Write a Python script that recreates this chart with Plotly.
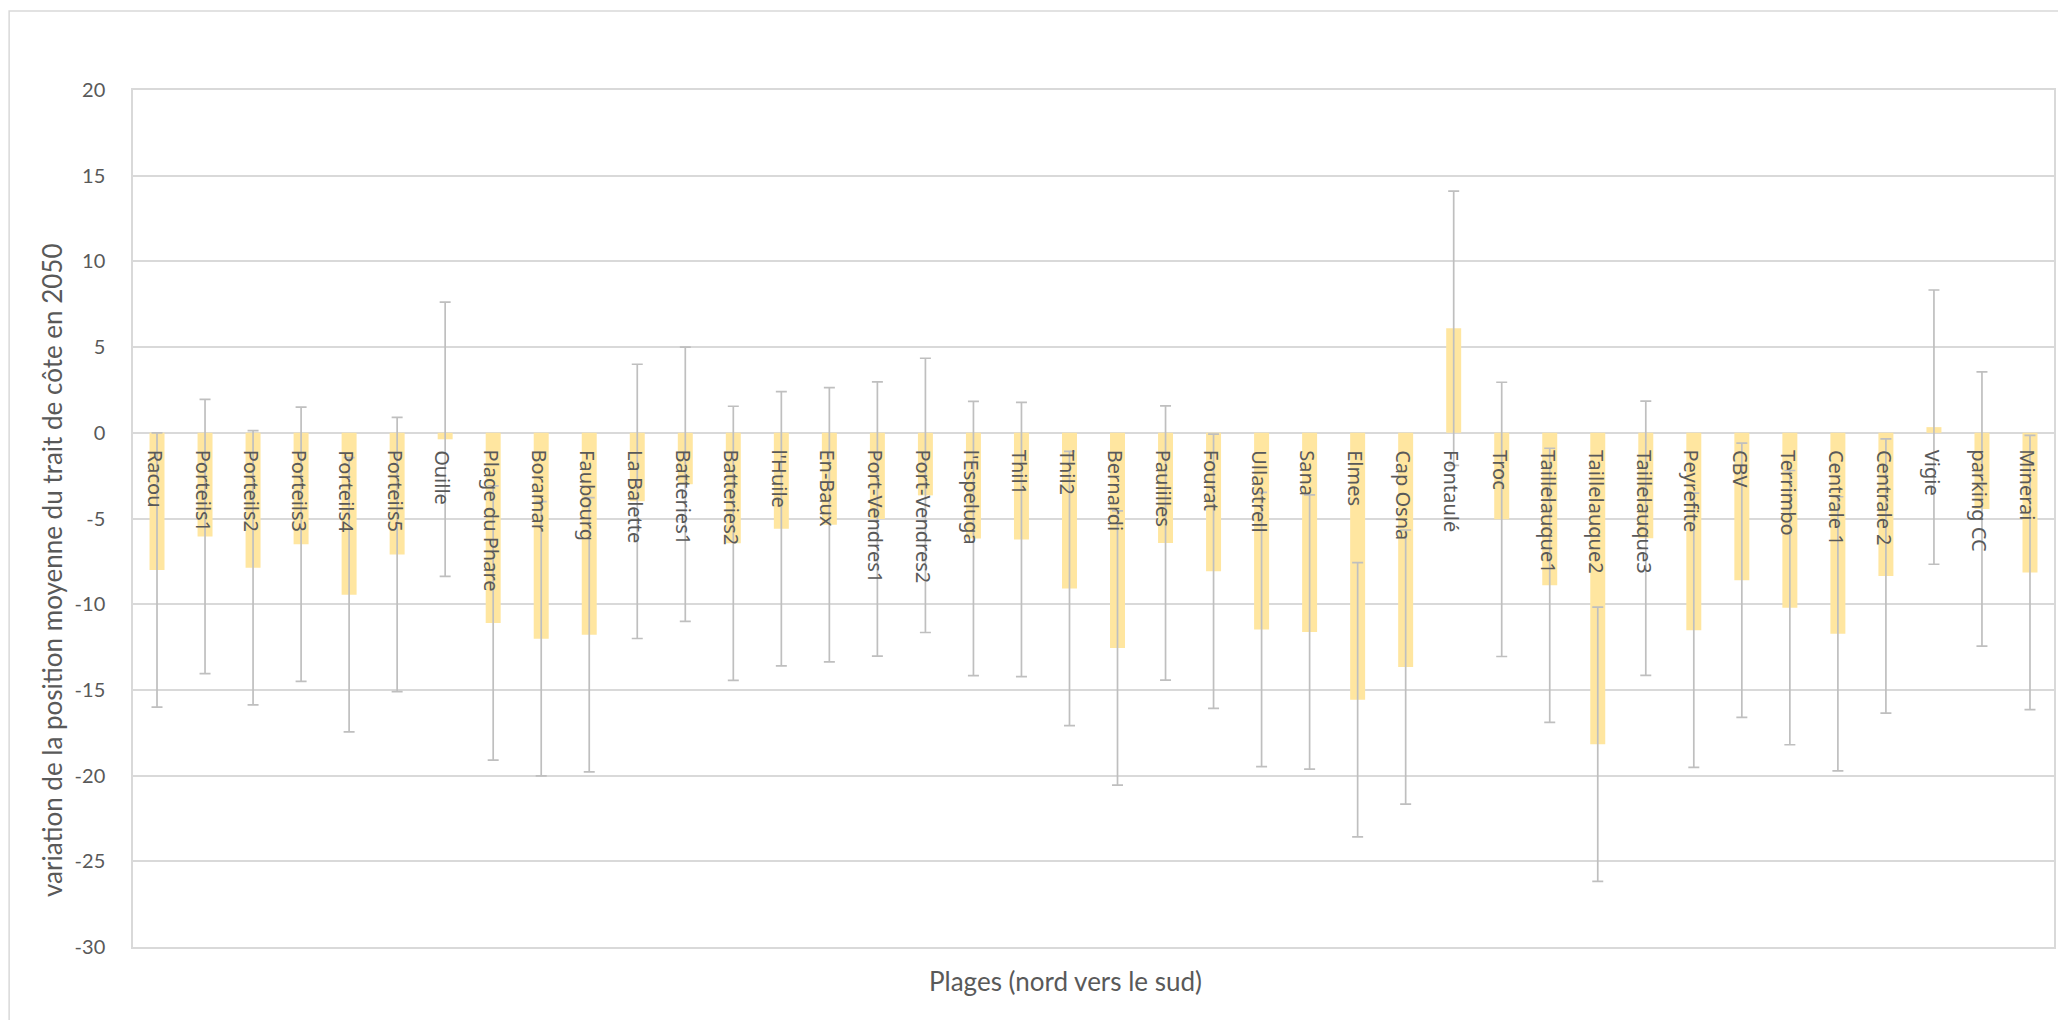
import plotly.graph_objects as go

plages = ["Racou", "Porteils1", "Porteils2", "Porteils3", "Porteils4", "Porteils5", "Ouille",
          "Plage du Phare", "Boramar", "Faubourg", "La Balette", "Batteries1", "Batteries2",
          "l'Huile", "En-Baux", "Port-Vendres1", "Port-Vendres2", "l'Espeluga", "Thil1", "Thil2",
          "Bernardi", "Paulilles", "Fourat", "Ullastrell", "Sana", "Elmes", "Cap Osna", "Fontaulé",
          "Troc", "Taillelauque1", "Taillelauque2", "Taillelauque3", "Peyrefite", "CBV", "Terrimbo",
          "Centrale 1", "Centrale 2", "Vigie", "parking CC", "Minerai"]

variation = [-8.0, -6.05, -7.87, -6.5, -9.45, -7.1, -0.38,
             -11.1, -12.02, -11.78, -4.0, -3.0, -6.45,
             -5.6, -5.37, -5.03, -3.65, -6.17, -6.22, -9.08,
             -12.55, -6.43, -8.08, -11.48, -11.62, -15.57, -13.67, 6.1,
             -5.05, -8.9, -18.17, -6.15, -11.52, -8.6, -10.2,
             -11.73, -8.35, 0.33, -4.45, -8.15]

ecart = 8  # half-width of the error bars

y_ticks = [20, 15, 10, 5, 0, -5, -10, -15, -20, -25, -30]

W, H = 2058, 1020
L, R, T, B = 133, 2, 90, 73
pw, ph = W - L - R, H - T - B

def px_x(p):
    return (p - L) / pw

def px_y(p):
    return (H - B - p) / ph

text_col = "#595959"
grid_col = "#D9D9D9"

fig = go.Figure(go.Bar(
    x=plages, y=variation,
    marker=dict(color="#FFE6A0", line=dict(width=0)),
    error_y=dict(type="constant", value=ecart, color="#BFBFBF", thickness=1.7, width=5.5),
    showlegend=False,
))

annotations = []
for p in plages:
    annotations.append(dict(
        x=p, y=0, xref="x", yref="y", text=p, textangle=90, showarrow=False,
        xanchor="center", yanchor="top", yshift=-15, xshift=-2,
        font=dict(family="Noto Sans", size=20, color=text_col),
    ))

annotations.append(dict(
    x=px_x(52), y=px_y(570), xref="paper", yref="paper",
    text="variation de la position moyenne du trait de côte en 2050",
    textangle=-90, showarrow=False, xanchor="center", yanchor="middle",
    font=dict(family="Lato", size=26, color=text_col),
))
annotations.append(dict(
    x=px_x(1066), y=px_y(981), xref="paper", yref="paper",
    text="Plages (nord vers le sud)", showarrow=False, xanchor="center", yanchor="middle",
    font=dict(family="Lato", size=26, color=text_col),
))

fig.update_layout(
    width=W, height=H,
    margin=dict(l=L, r=R, t=T, b=B, pad=0),
    paper_bgcolor="white", plot_bgcolor="white",
    bargap=0.688,
    annotations=annotations,
    shapes=[dict(type="rect", xref="paper", yref="paper",
                 x0=px_x(9), x1=px_x(2080), y0=px_y(1040), y1=px_y(11),
                 line=dict(color=grid_col, width=1.5), fillcolor="rgba(0,0,0,0)", layer="below")],
    xaxis=dict(showticklabels=False, ticks="", showgrid=False, zeroline=False,
               showline=True, linecolor=grid_col, linewidth=1.5, mirror=True),
    yaxis=dict(range=[-30, 20], tickvals=y_ticks, ticktext=[str(v) for v in y_ticks],
               showgrid=True, gridcolor=grid_col, gridwidth=1.5, zeroline=False,
               showline=True, linecolor=grid_col, linewidth=1.5, mirror=True,
               ticks="", ticklabelstandoff=22,
               tickfont=dict(family="Lato", size=20, color=text_col)),
)

fig.write_html("out.html", config={"displayModeBar": False},
               post_script="document.body.style.margin='0';document.body.style.overflow='hidden';")
